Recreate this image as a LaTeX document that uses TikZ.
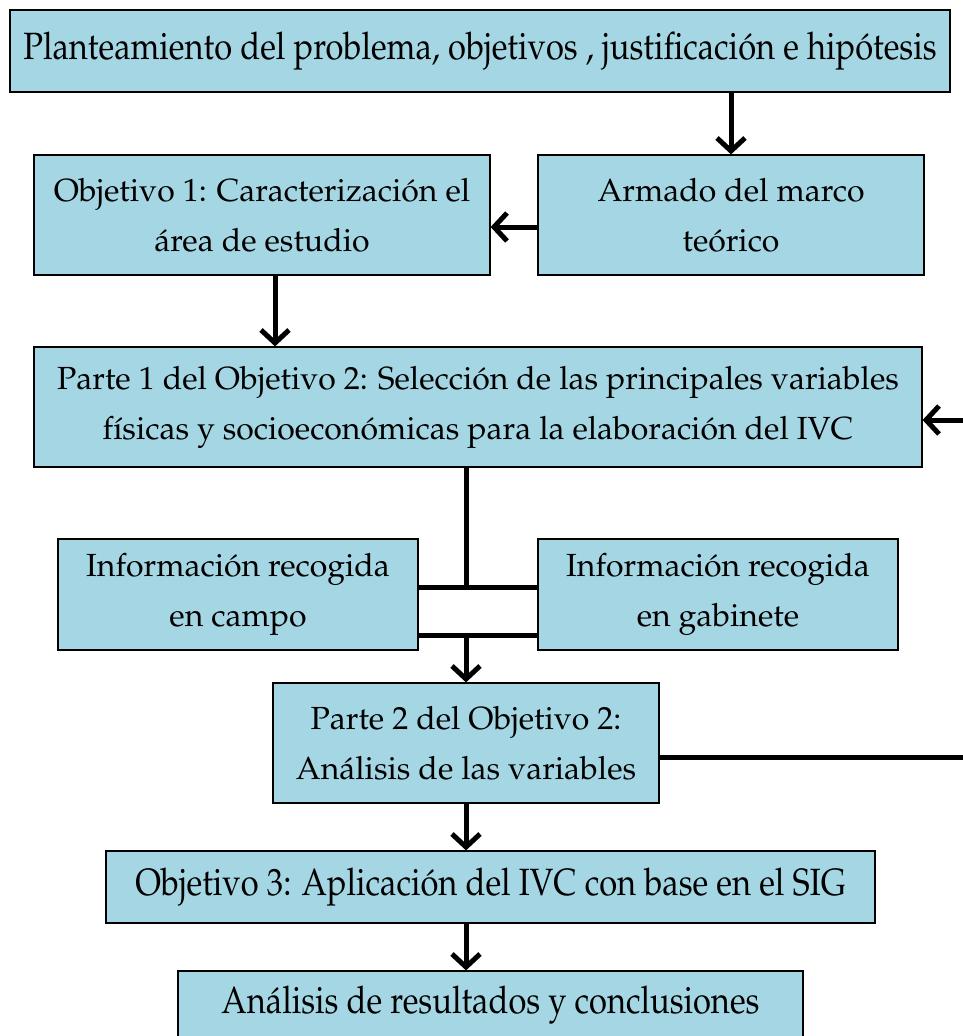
\documentclass[tikz,border=0pt]{standalone}
\usepackage[T1]{fontenc}
\usepackage{mathpazo}
\usetikzlibrary{arrows.meta}

\definecolor{cajaazul}{RGB}{164,214,227}
\newcommand{\estrecho}[1]{{\fontsize{38}{50}\selectfont\scalebox{0.86}[1]{#1}}}

\tikzset{
  etapa/.style={draw=black, line width=1.2pt, fill=cajaazul, align=center, inner sep=0pt,
    font=\fontsize{32}{50}\selectfont},
  flecha/.style={line width=5pt, -{Straight Barb[length=13pt,width=28pt]}},
  linea/.style={line width=5pt}
}

\begin{document}
\begin{tikzpicture}[x=1pt,y=-1pt]
\useasboundingbox (0,0) rectangle (962,1036);

\node[etapa, minimum width=940pt, minimum height=82pt] (plan) at (480,51)
  {\estrecho{Planteamiento del problema, objetivos , justificación e hipótesis}};
\node[etapa, minimum width=456pt, minimum height=120pt] (obj1) at (262,215)
  {Objetivo 1: Caracterización el\\área de estudio};
\node[etapa, minimum width=386pt, minimum height=120pt] (marco) at (731,215)
  {Armado del marco\\teórico};
\node[etapa, minimum width=888pt, minimum height=120pt] (parte1) at (478,407)
  {Parte 1 del Objetivo 2: Selección de las principales variables\\físicas y socioeconómicas para la elaboración del IVC};
\node[etapa, minimum width=360pt, minimum height=111pt] (campo) at (238,594.5)
  {Información recogida\\en campo};
\node[etapa, minimum width=360pt, minimum height=111pt] (gabinete) at (718,594.5)
  {Información recogida\\en gabinete};
\node[etapa, minimum width=386pt, minimum height=120pt] (parte2) at (466,743)
  {Parte 2 del Objetivo 2:\\Análisis de las variables};
\node[etapa, minimum width=769pt, minimum height=72pt] (obj3) at (490.5,887)
  {\estrecho{Objetivo 3: Aplicación del IVC con base en el SIG}};
\node[etapa, minimum width=625pt, minimum height=68pt] (analisis) at (490.5,1005)
  {\estrecho{Análisis de resultados y conclusiones}};

% conectores
\draw[flecha] (plan.south -| marco) -- (marco);
\draw[flecha] ([yshift=-12pt]marco.west) -- ([yshift=-12pt]obj1.east);
\draw[flecha] ([xshift=13pt]obj1.south) -- ([xshift=13pt]obj1.south |- parte1.north);

\draw[linea] (parte1.south -| parte2.north) -- ([yshift=7.5pt]campo.east -| parte2.north);
\draw[linea] ([yshift=7.5pt]campo.east) -- ([yshift=7.5pt]gabinete.west);
\draw[linea] ([yshift=-40.5pt]campo.east) -- ([yshift=-40.5pt]gabinete.west);
\draw[flecha] ([yshift=-40.5pt]campo.east -| parte2.north) -- (parte2.north);

\draw[flecha] (parte2.south) -- (parte2.south |- obj3.north);
\draw[flecha] (obj3.south -| parte2.south) -- (parte2.south |- analisis.north);

% retorno hacia la parte 1
\coordinate (retorno) at (972,0);
\draw[flecha] ([yshift=-14pt]parte2.east) -- ([yshift=-14pt]parte2.east -| retorno)
  -- ([yshift=-13pt]parte1.east -| retorno) -- ([yshift=-13pt]parte1.east);
\end{tikzpicture}
\end{document}
